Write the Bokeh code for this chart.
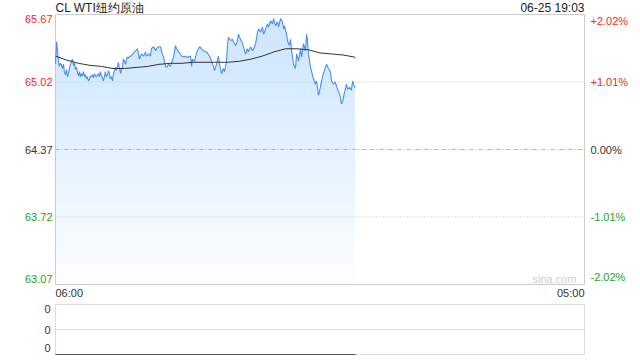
import numpy as np
import pandas as pd
from bokeh.plotting import figure
from bokeh.layouts import column
from bokeh.models import ColumnDataSource, Range1d
from bokeh.core.properties import value
from bokeh.embed import file_html
from bokeh.resources import INLINE

# ---------------- data ----------------
title_text = "CL WTI纽约原油"
stamp_text = "06-25 19:03"
watermark = "sina.com"
session_start = "2025-06-25 06:00"
session_end = "2025-06-26 05:00"
last_time = "2025-06-25 19:03"

price_ticks = [65.67, 65.02, 64.37, 63.72, 63.07]
price_tick_labels = ["65.67", "65.02", "64.37", "63.72", "63.07"]
pct_tick_labels = ["+2.02%", "+1.01%", "0.00%", "-1.01%", "-2.02%"]
time_tick_labels = ["06:00", "05:00"]
vol_ticks = [1.0, 0.5, 0.0]
vol_tick_labels = ["0", "0", "0"]

# price readings: minutes after 06:00 and price
price_minutes = [
    0, 3, 5, 8, 10, 13, 16, 18, 21, 23, 26, 29, 31, 34, 37, 39, 42, 44, 47, 50,
    52, 55, 57, 60, 63, 65, 68, 70, 73, 76, 78, 81, 83, 86, 89, 91, 94, 97, 99, 102,
    104, 107, 110, 112, 115, 117, 120, 123, 125, 128, 130, 133, 136, 138, 141, 143, 146, 149, 151, 154,
    157, 159, 162, 164, 167, 170, 172, 175, 177, 180, 183, 185, 188, 190, 194, 198, 203, 209, 214, 219,
    224, 230, 235, 237, 243, 248, 250, 256, 261, 263, 269, 274, 277, 282, 287, 290, 295, 300, 303, 308,
    313, 316, 321, 326, 329, 334, 339, 342, 347, 352, 355, 357, 363, 365, 370, 376, 381, 386, 391, 394,
    402, 407, 412, 415, 420, 425, 428, 433, 438, 441, 446, 449, 451, 457, 462, 464, 470, 475, 477, 483,
    488, 490, 496, 501, 503, 509, 514, 517, 522, 527, 530, 535, 540, 543, 548, 553, 556, 561, 566, 569,
    574, 579, 582, 587, 592, 595, 597, 603, 605, 610, 613, 616, 621, 626, 629, 634, 639, 642, 647, 652,
    655, 657, 660, 665, 668, 673, 678, 681, 686, 691, 694, 699, 704, 707, 712, 717, 720, 725, 730, 733,
    738, 743, 746, 749, 754, 759, 762, 767, 772, 775, 780, 783,
]
prices = [
    65.19, 65.41, 65.33, 65.21, 65.17, 65.20, 65.18, 65.15, 65.19, 65.12, 65.09, 65.14, 65.07, 65.10, 65.16, 65.19, 65.22, 65.24, 65.18, 65.20,
    65.14, 65.16, 65.12, 65.08, 65.12, 65.07, 65.10, 65.08, 65.12, 65.07, 65.09, 65.05, 65.07, 65.03, 65.05, 65.08, 65.07, 65.09, 65.06, 65.10,
    65.08, 65.07, 65.09, 65.10, 65.07, 65.12, 65.08, 65.05, 65.03, 65.08, 65.12, 65.07, 65.09, 65.13, 65.10, 65.05, 65.07, 65.03, 65.10, 65.13,
    65.16, 65.13, 65.17, 65.21, 65.15, 65.10, 65.15, 65.16, 65.24, 65.22, 65.19, 65.24, 65.26, 65.25, 65.27, 65.27, 65.30, 65.32, 65.34, 65.24,
    65.29, 65.27, 65.31, 65.27, 65.29, 65.27, 65.34, 65.36, 65.32, 65.34, 65.36, 65.36, 65.31, 65.26, 65.17, 65.16, 65.19, 65.17, 65.21, 65.26,
    65.37, 65.34, 65.31, 65.29, 65.27, 65.26, 65.27, 65.26, 65.26, 65.27, 65.17, 65.24, 65.22, 65.26, 65.32, 65.36, 65.34, 65.32, 65.31, 65.31,
    65.27, 65.22, 65.17, 65.13, 65.19, 65.27, 65.19, 65.10, 65.15, 65.12, 65.22, 65.39, 65.45, 65.42, 65.43, 65.41, 65.37, 65.42, 65.48, 65.43,
    65.39, 65.36, 65.29, 65.34, 65.31, 65.36, 65.32, 65.34, 65.39, 65.50, 65.53, 65.50, 65.55, 65.48, 65.53, 65.58, 65.55, 65.61, 65.58, 65.63,
    65.56, 65.60, 65.55, 65.63, 65.60, 65.53, 65.56, 65.48, 65.42, 65.37, 65.43, 65.32, 65.19, 65.15, 65.29, 65.22, 65.34, 65.26, 65.39, 65.32,
    65.48, 65.43, 65.29, 65.17, 65.12, 65.05, 65.00, 65.03, 64.89, 64.97, 65.03, 65.10, 65.16, 65.19, 65.15, 65.12, 65.03, 65.00, 65.02, 64.98,
    64.93, 64.88, 64.81, 64.83, 64.92, 65.00, 64.95, 64.97, 64.94, 65.03, 64.97, 64.97,
]

# 30-minute average price 06:00 ... 19:00, then 19:03
avg_prices = [
    65.27, 65.23, 65.20, 65.18, 65.17, 65.15, 65.15, 65.16, 65.17, 65.19,
    65.20, 65.20, 65.21, 65.21, 65.21, 65.21, 65.22, 65.24, 65.27, 65.31,
    65.34, 65.34, 65.33, 65.30, 65.29, 65.28, 65.26, 65.25,
]

volumes = [0, 0, 0, 0, 0, 0, 0, 0, 0, 0, 0, 0, 0, 0,
           0, 0, 0, 0, 0, 0, 0, 0, 0, 0, 0, 0, 0, 0]

# ---------------- styling / layout ----------------
UP = "#ee2b2b"
DOWN = "#1ea21e"
FLAT = "#333333"
FONT = value("Liberation Sans")
label_colors = [UP, UP, FLAT, DOWN, DOWN]
W = 640
MAIN_H, VOL_H = 300, 60
PAD_L, PAD_R = 55, 56
MAIN_PAD_T, MAIN_PAD_B = 14, 16
VOL_PAD_T, VOL_PAD_B = 4, 6

start_ts = pd.Timestamp(session_start)
price_times = [start_ts + pd.Timedelta(minutes=m) for m in price_minutes]
avg_times = list(pd.date_range(session_start, periods=len(avg_prices) - 1, freq="30min")) + [pd.Timestamp(last_time)]


def ms(t):
    return (pd.Timestamp(t) - pd.Timestamp("1970-01-01")) / pd.Timedelta(milliseconds=1)


t0, t1 = ms(session_start), ms(session_end)
inner_w = W - PAD_L - PAD_R
per_px_x = (t1 - t0) / inner_w
xr = Range1d(start=t0 - PAD_L * per_px_x, end=t1 + PAD_R * per_px_x)

p_top, p_bot = price_ticks[0], price_ticks[-1]
per_px_y = (p_top - p_bot) / (MAIN_H - MAIN_PAD_T - MAIN_PAD_B)
y_lo, y_hi = p_bot - MAIN_PAD_B * per_px_y, p_top + MAIN_PAD_T * per_px_y

p = figure(width=W, height=MAIN_H, x_range=xr, y_range=Range1d(start=y_lo, end=y_hi),
           x_axis_type=None, y_axis_type=None, output_backend="svg", toolbar_location=None,
           min_border=0)
p.grid.visible = False
p.outline_line_color = None
p.background_fill_color = "white"
p.border_fill_color = "white"

# gradient-like area fill: stacked translucent layers
pr = np.array(prices)
levels = np.arange(p_bot, p_top, 0.1)
for lv in levels:
    p.varea(x=price_times, y1=np.full(len(pr), lv), y2=np.maximum(pr, lv),
            fill_color="#aecdf6", fill_alpha=0.023)

# grid lines
p.segment(x0=[t0, t0], x1=[t1, t1], y0=[price_ticks[1], price_ticks[3]],
          y1=[price_ticks[1], price_ticks[3]], line_color="#c4c4c4", line_dash="1 2", line_width=1)
p.segment(x0=[t0], x1=[t1], y0=[price_ticks[2]], y1=[price_ticks[2]],
          line_color="#b4b4b4", line_dash="4 2 1 2", line_width=1)

# frame border
p.quad(left=[t0], right=[t1], bottom=[p_bot], top=[p_top], fill_color=None,
       line_color="#cccccc", line_width=1)

p.line(x=price_times, y=prices, line_color="#4a8ef0", line_width=1.1)
p.line(x=avg_times, y=avg_prices, line_color="#333333", line_width=1)


def side_text(fig, idx, baseline, ticks, texts, colors, x, x_offset, align, y_offset=0, size="11px"):
    src = ColumnDataSource(dict(
        x=[x] * len(idx), y=[ticks[i] for i in idx],
        text=[texts[i] for i in idx], color=[colors[i] for i in idx]))
    fig.text(x="x", y="y", text="text", source=src, x_offset=x_offset, y_offset=y_offset,
             text_align=align, text_baseline=baseline, text_color="color",
             text_font=FONT, text_font_size=size)


groups = [([0], "top", 0), ([1, 2, 3], "middle", 0), ([4], "bottom", -2)]
for idx, bl, yo in groups:
    side_text(p, idx, bl, price_ticks, price_tick_labels, label_colors, t0, -3, "right", yo)
    side_text(p, idx, bl, price_ticks, pct_tick_labels, label_colors, t1, 6, "left", yo)

# time labels under the frame
p.text(x=[t0], y=[y_lo], y_offset=-2, text=[time_tick_labels[0]], text_align="left",
       text_baseline="bottom", text_color=FLAT, text_font=FONT, text_font_size="11px")
p.text(x=[t1], y=[y_lo], y_offset=-2, text=[time_tick_labels[1]], text_align="right",
       text_baseline="bottom", text_color=FLAT, text_font=FONT, text_font_size="11px")
# title and time stamp
p.text(x=[t0], y=[p_top], text=[title_text], text_align="left", text_baseline="bottom",
       text_color="#222222", text_font=FONT, text_font_size="12px")
p.text(x=[t1], y=[p_top], text=[stamp_text], text_align="right", text_baseline="bottom",
       text_color="#222222", text_font=FONT, text_font_size="12px")
# watermark
p.text(x=[t1], y=[p_bot], x_offset=-8, text=[watermark], text_align="right",
       text_baseline="bottom", text_color="#cfcfcf", text_font=FONT, text_font_size="11px")

# ---------------- volume panel ----------------
v_top, v_bot = vol_ticks[0], vol_ticks[-1]
per_px_v = (v_top - v_bot) / (VOL_H - VOL_PAD_T - VOL_PAD_B)
v = figure(width=W, height=VOL_H, x_range=xr,
           y_range=Range1d(start=v_bot - VOL_PAD_B * per_px_v, end=v_top + VOL_PAD_T * per_px_v),
           x_axis_type=None, y_axis_type=None, output_backend="svg", toolbar_location=None,
           min_border=0)
v.grid.visible = False
v.outline_line_color = None
v.background_fill_color = "white"
v.border_fill_color = "white"

v.quad(left=[t0], right=[t1], bottom=[v_bot], top=[v_top], fill_color=None,
       line_color="#bbbbbb", line_dash="1 1", line_width=1)
v.segment(x0=[t0], x1=[t1], y0=[vol_ticks[1]], y1=[vol_ticks[1]],
          line_color="#bbbbbb", line_dash="1 1", line_width=1)
v.line(x=avg_times, y=volumes, line_color="#555555", line_width=1.2)

vol_colors = [FLAT, FLAT, FLAT]
vol_groups = [([0], "top", 0), ([1], "middle", 0), ([2], "bottom", -3)]
for idx, bl, yo in vol_groups:
    side_text(v, idx, bl, vol_ticks, vol_tick_labels, vol_colors, t0, -5, "right", yo)

layout = column(p, v, spacing=0)
open("out.html", "w").write(file_html(layout, INLINE))
